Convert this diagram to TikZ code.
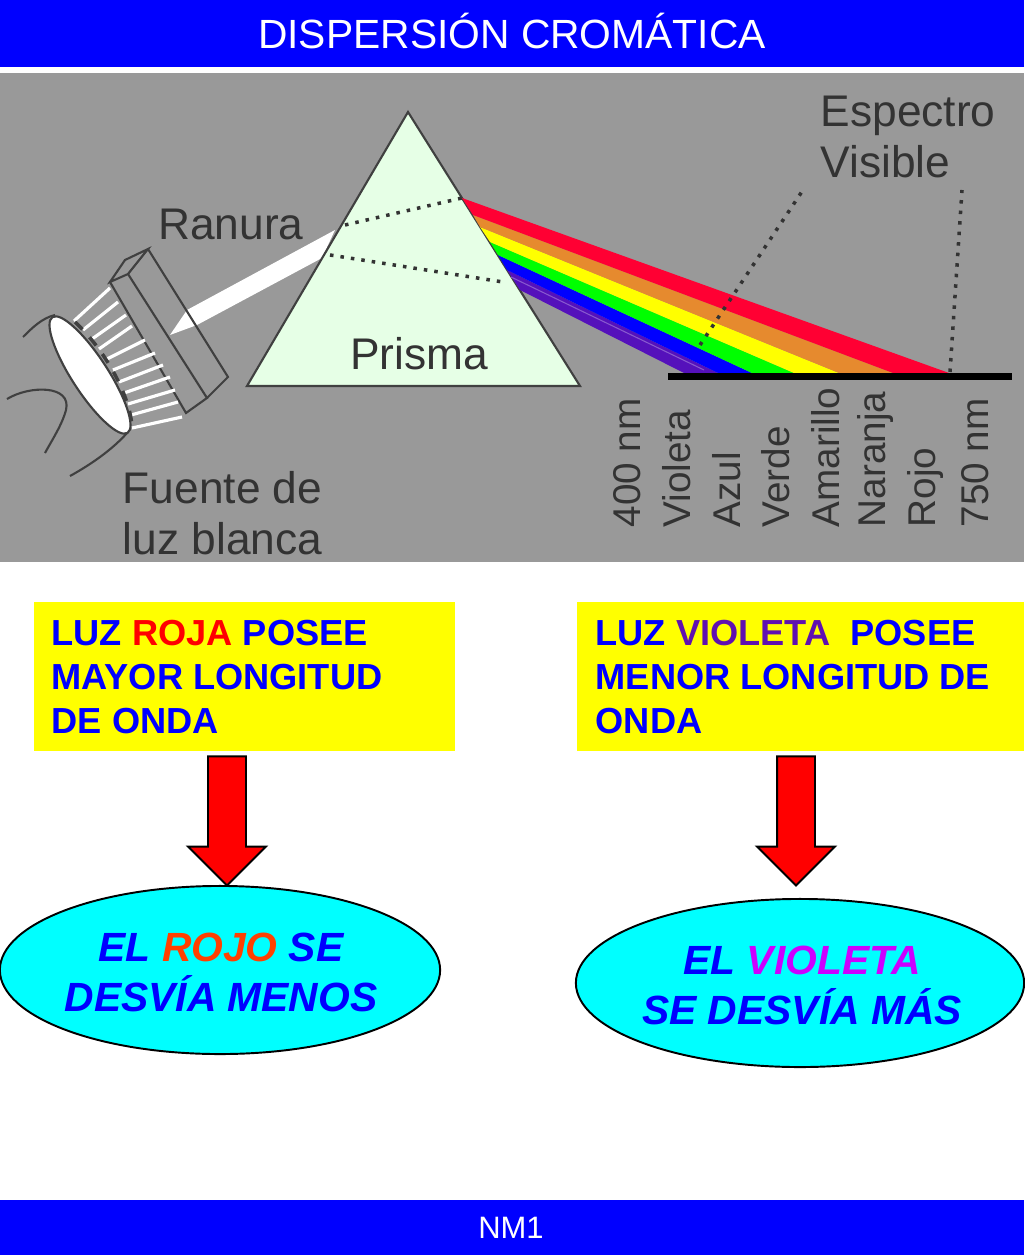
\documentclass[tikz,border=0pt]{standalone}
\usepackage{fontspec}
\setmainfont{Liberation Sans}
\usetikzlibrary{shapes.geometric,shapes.arrows}
\definecolor{fondo}{HTML}{999999}
\definecolor{tinta}{HTML}{333333}
\definecolor{prisma}{HTML}{E6FFE6}
\definecolor{amarillo}{HTML}{FFFF00}
\definecolor{celeste}{HTML}{00FFFF}
\definecolor{rojoband}{HTML}{FF0033}
\definecolor{naranjaband}{HTML}{E68A2E}
\definecolor{violetaband}{HTML}{5511BB}
\definecolor{violetacaja}{HTML}{6010B0}
\definecolor{violetaelip}{HTML}{CC00FF}
\definecolor{rojoelip}{HTML}{FF4000}
\begin{document}
\begin{tikzpicture}[x=0.01cm,y=-0.01cm,
    etiq/.style={text=tinta,font=\fontsize{12.6}{17}\selectfont,align=left,inner sep=0pt},
    vert/.style={text=tinta,font=\fontsize{11}{13}\selectfont,rotate=90,anchor=west,inner sep=0pt},
    caja/.style={fill=amarillo,minimum height=1.49cm,inner sep=0pt},
    cajatxt/.style={text=blue,font=\fontsize{10.3}{12.5}\selectfont\bfseries,align=left,anchor=west,inner sep=0pt},
    elip/.style={ellipse,draw=black,fill=celeste,line width=0.55pt,minimum height=1.68cm,inner sep=0pt},
    eliptxt/.style={text=blue,font=\fontsize{11.6}{14.2}\selectfont\bfseries\itshape,align=center,inner sep=0pt},
    flecha/.style={single arrow,draw=black,fill=red,line width=0.55pt,rotate=-90,minimum height=1.29cm,
      single arrow head extend=0.2cm,single arrow tip angle=90,inner xsep=0pt,inner ysep=0.18cm},
    punteada/.style={draw=tinta,dotted,line width=1pt},
    linea/.style={draw=black!75,line width=0.6pt}]
    \useasboundingbox (0,0) rectangle (1024,1255);
    \fill[white] (0,0) rectangle (1024,1255);
    \fill[blue] (0,0) rectangle (1024,67);
    \fill[blue] (0,1200) rectangle (1024,1255);
    \fill[fondo] (0,73) rectangle (1024,562);
    \node[text=white,font=\fontsize{11.6}{15}\selectfont,inner sep=0pt] (titulo) at (512,31) {DISPERSIÓN CROMÁTICA};
    \node[text=white,font=\fontsize{8.8}{11}\selectfont,inner sep=0pt] (pie) at (511,1228) {NM1};

    \fill[white] (170,335) -- (187,310) -- (335,230) -- (322,258) -- (197,325) -- cycle;
    \draw[linea,fill=prisma] (408,112) -- (580,386) -- (247,386) -- cycle;
    \draw[punteada] (345,225) -- (462,198);
    \draw[punteada] (330,255) -- (503,282);

    \fill[violetaband] (507,270) -- (520,290) -- (684,373) -- (718,373) -- cycle;
    \fill[blue] (498,255) -- (507,270) -- (718,373) -- (752,373) -- cycle;
    \fill[green] (490,242) -- (498,255) -- (752,373) -- (794,373) -- cycle;
    \fill[amarillo] (480,227) -- (490,242) -- (794,373) -- (839,373) -- cycle;
    \fill[naranjaband] (473,215) -- (480,227) -- (839,373) -- (893,373) -- cycle;
    \fill[rojoband] (462,198) -- (473,215) -- (893,373) -- (949,373) -- cycle;
    \draw[violetaband!70!white,line width=0.3pt] (511,277) -- (704,370);
    \fill[black] (668,373) rectangle (1012,380);
    \draw[punteada] (700,345) -- (803,190);
    \draw[punteada] (950,372) -- (962,190);

    \draw[linea] (110,282) -- (125,260) -- (148,249) -- (128,274) -- cycle;
    \draw[linea] (110,282) -- (186,413) -- (207,398) -- (128,274);
    \draw[linea] (207,398) -- (228,377) -- (148,249);
    \foreach \xa/\ya/\xb/\yb in {74/321/110/288,83/330/118/302,92/339/126/315,99/349/132/326,107/359/145/340,
      113/370/155/353,119/382/163/365,124/393/170/377,128/404/175/390,131/415/178/402,132/428/182/417}
      \draw[white,line width=0.9pt] (\xa,\ya) -- (\xb,\yb);
    \draw[linea,dashed,line width=1pt] (75,322) .. controls (105,350) and (130,395) .. (132,427);
    \draw[linea,fill=white,rotate around={-57:(90,375)}] (90,375) ellipse (69 and 18);
    \draw[linea] (23,337) .. controls (32,328) and (42,318) .. (55,315);
    \draw[linea] (7,399) .. controls (30,385) and (72,385) .. (66,410) .. controls (62,425) and (52,440) .. (45,453);
    \draw[linea] (70,476) .. controls (90,465) and (112,450) .. (127,433);

    \node[etiq] (ranura) at (231,224) {Ranura};
    \node[etiq,anchor=west] (espectro) at (820,137) {Espectro\\[-2.6pt]Visible};
    \node[etiq,anchor=west] (fuente) at (122,513) {Fuente de\\[-2.6pt]luz blanca};
    \node[etiq] (prismatxt) at (419,354) {Prisma};
    \node[vert] (v400) at (627,528) {400 nm};
    \node[vert] (violeta) at (677,528) {Violeta};
    \node[vert] (azul) at (727,528) {Azul};
    \node[vert] (verde) at (776,528) {Verde};
    \node[vert] (amarillotxt) at (826,528) {Amarillo};
    \node[vert] (naranja) at (875,528) {Naranja};
    \node[vert] (rojo) at (925,528) {Rojo};
    \node[vert] (v750) at (975,528) {750 nm};

    \node[caja,minimum width=4.21cm] (cajaroja) at (244.5,676.5) {};
    \node[caja,minimum width=4.47cm] (cajavioleta) at (800.5,676.5) {};
    \node[cajatxt] (txtroja) at (51,677) {LUZ \textcolor{red}{ROJA} POSEE\\MAYOR LONGITUD\\DE ONDA};
    \node[cajatxt] (txtvioleta) at (595,677) {LUZ \textcolor{violetacaja}{VIOLETA}\ \ POSEE\\MENOR LONGITUD DE\\ONDA};

    \node[elip,minimum width=4.4cm] (eliproja) at (220,970) {};
    \node[elip,minimum width=4.48cm] (elipvioleta) at (800,983) {};
    \node[eliptxt] (txteliproja) at (221,972) {EL \textcolor{rojoelip}{ROJO} SE\\DESVÍA MENOS};
    \node[eliptxt] (txtelipvioleta) at (802,985) {EL \textcolor{violetaelip}{VIOLETA}\\SE DESVÍA MÁS};
    \node[flecha] (flecharoja) at (227,811.5) {};
    \node[flecha] (flechavioleta) at (796,811.5) {};
\end{tikzpicture}
\end{document}
